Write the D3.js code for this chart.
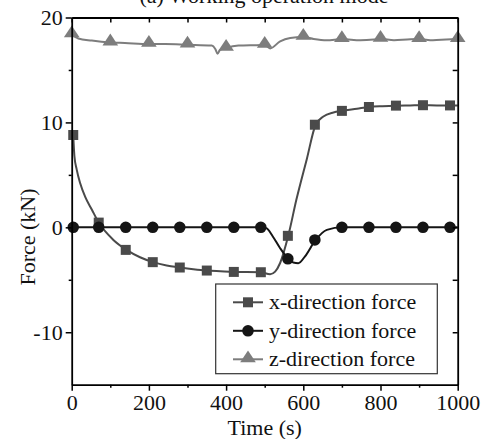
<!DOCTYPE html>
<html><head><meta charset="utf-8">
<script src="https://cdn.jsdelivr.net/npm/d3@7"></script>
<style>body{margin:0;background:#fff}svg{display:block}text{font-family:"Liberation Serif","Times New Roman",serif;fill:#111}</style>
</head><body><svg id="c" width="491" height="439"></svg>
<script>
// ---- data ----
const titleText = "(a) Working operation mode";
const xTitle = "Time (s)";
const yTitle = "Force (kN)";
const seriesNames = ["x-direction force", "y-direction force", "z-direction force"];
const xTickValues = [0, 200, 400, 600, 800, 1000];
const yTickValues = [-10, 0, 10, 20];

// x-direction force: traced line and markers
const xLineT = [4, 5, 7, 13, 22, 35, 52, 70, 108, 142, 177, 211, 246, 281, 315, 350, 385, 419, 453, 490, 514, 527, 540, 561, 582, 609, 632, 652, 678, 701, 739, 770, 805, 840, 877, 909, 946, 979, 1000];
const xLineV = [8.8, 8.0, 6.8, 5.5, 4.2, 2.9, 1.7, 0.45, -1.2, -2.15, -2.85, -3.32, -3.64, -3.83, -3.99, -4.12, -4.19, -4.25, -4.25, -4.28, -4.47, -4.22, -3.4, -0.81, 2.62, 6.5, 9.78, 10.57, 10.95, 11.1, 11.3, 11.47, 11.55, 11.6, 11.62, 11.64, 11.62, 11.62, 11.62];
const xMarkT = [4, 70, 140, 210, 280, 350, 420, 490, 560, 630, 700, 770, 840, 910, 980];
const xMarkV = [8.8, 0.45, -2.15, -3.32, -3.83, -4.12, -4.25, -4.28, -0.81, 9.78, 11.1, 11.47, 11.6, 11.64, 11.62];

// y-direction force
const yLineT = [4, 100, 200, 300, 400, 490, 504, 521, 540, 561, 574, 587, 604, 632, 661, 701, 800, 900, 1000];
const yLineV = [0, 0, 0, 0, 0, 0, -0.08, -0.87, -1.99, -3.0, -3.36, -3.42, -2.79, -1.2, -0.24, 0, 0, 0, 0];
const yMarkT = [4, 70, 140, 210, 280, 350, 420, 490, 560, 630, 700, 770, 840, 910, 980];
const yMarkV = [0, 0, 0, 0, 0, 0, 0, 0, -3.0, -1.2, 0, 0, 0, 0, 0];

// z-direction force
const zLineT = [0, 17, 52, 100, 138, 200, 242, 300, 363, 372, 378, 384, 400, 432, 492, 500, 514, 540, 566, 600, 627, 661, 700, 748, 783, 800, 835, 869, 900, 936, 970, 1000];
const zLineV = [18.4, 18.0, 17.8, 17.62, 17.57, 17.48, 17.48, 17.41, 17.32, 17.0, 16.55, 16.9, 17.1, 17.32, 17.38, 17.4, 17.05, 17.73, 18.05, 18.15, 17.95, 17.83, 17.95, 17.83, 17.9, 17.97, 17.83, 17.9, 17.95, 17.83, 17.9, 17.95];
const zMarkT = [0, 100, 200, 300, 400, 500, 600, 700, 800, 900, 1000];
const zMarkV = [18.4, 17.62, 17.48, 17.41, 17.1, 17.4, 18.15, 17.95, 17.97, 17.95, 17.95];

// ---- chart ----
const W = 491, H = 439;
const m = {l: 71.7, r: 33.3, t: 17.5, b: 54.3};
const svg = d3.select("#c");
const x = d3.scaleLinear().domain([0, 1000]).range([m.l, W - m.r]);
const y = d3.scaleLinear().domain([-15, 20]).range([H - m.b, m.t]);

const colX = "#4a4a4a", colY = "#151515", colZ = "#7d7d7d";

// title (cut off at the top edge, as in the source image)
svg.append("text").attr("x", 264).attr("y", 3).attr("text-anchor", "middle")
  .style("font-size", "22px").text(titleText);

const line = d3.line().x(d => x(d[0])).y(d => y(d[1])).curve(d3.curveMonotoneX);
const zip = (a, b) => a.map((t, i) => [t, b[i]]);

const g = svg.append("g");
g.append("path").datum(zip(zLineT, zLineV)).attr("d", line).attr("fill", "none").attr("stroke", colZ).attr("stroke-width", 2);
g.append("path").datum(zip(xLineT, xLineV)).attr("d", line).attr("fill", "none").attr("stroke", colX).attr("stroke-width", 2);
g.append("path").datum(zip(yLineT, yLineV)).attr("d", line).attr("fill", "none").attr("stroke", colY).attr("stroke-width", 2);

const sq = d3.symbol().type(d3.symbolSquare).size(100);
const ci = d3.symbol().type(d3.symbolCircle).size(105);
const tr = d3.symbol().type(d3.symbolTriangle).size(80);

g.selectAll(".mz").data(zip(zMarkT, zMarkV)).join("path").attr("d", tr)
  .attr("transform", d => `translate(${x(d[0])},${y(d[1]) - 1}) scale(1.15,1)`).attr("fill", colZ);
g.selectAll(".mx").data(zip(xMarkT, xMarkV)).join("path").attr("d", sq)
  .attr("transform", d => `translate(${x(d[0])},${y(d[1])})`).attr("fill", colX);
g.selectAll(".my").data(zip(yMarkT, yMarkV)).join("path").attr("d", ci)
  .attr("transform", d => `translate(${x(d[0])},${y(d[1])})`).attr("fill", colY);

// axes
function styleAxis(sel) {
  sel.selectAll(".domain").attr("stroke", "#000").attr("stroke-width", 1.8);
  sel.selectAll(".tick line").attr("stroke", "#000").attr("stroke-width", 1.5);
  sel.selectAll("text").style("font-size", "22px").attr("fill", "#111");
}
const xMinor = d3.range(100, 1000, 200);
const yMinor = [-5, 5, 15];

const ax = svg.append("g").attr("transform", `translate(0,${H - m.b})`)
  .call(d3.axisBottom(x).tickValues(xTickValues).tickSize(6).tickSizeOuter(0).tickPadding(4).tickFormat(d3.format("d")));
styleAxis(ax);
ax.selectAll("text").attr("dy", "0.71em");
svg.append("g").attr("transform", `translate(0,${H - m.b})`)
  .call(d3.axisBottom(x).tickValues(xMinor).tickSize(3).tickFormat("").tickSizeOuter(0)).call(styleAxis)
  .select(".domain").remove();

const ay = svg.append("g").attr("transform", `translate(${m.l},0)`)
  .call(d3.axisLeft(y).tickValues(yTickValues).tickSize(6).tickSizeOuter(0).tickPadding(3)
    .tickFormat(d => d < 0 ? "-" + Math.abs(d) : d));
styleAxis(ay);
svg.append("g").attr("transform", `translate(${m.l},0)`)
  .call(d3.axisLeft(y).tickValues(yMinor).tickSize(3).tickFormat("").tickSizeOuter(0)).call(styleAxis)
  .select(".domain").remove();

// top & right mirrored axes with inward ticks
const at = svg.append("g").attr("transform", `translate(0,${m.t})`)
  .call(d3.axisTop(x).tickValues(xTickValues.concat(xMinor)).tickSize(-5).tickFormat("").tickSizeOuter(0));
styleAxis(at);
const ar = svg.append("g").attr("transform", `translate(${W - m.r},0)`)
  .call(d3.axisRight(y).tickValues(yTickValues.concat(yMinor)).tickSize(-5).tickFormat("").tickSizeOuter(0));
styleAxis(ar);

// axis titles
svg.append("text").attr("x", (m.l + W - m.r) / 2).attr("y", 435).attr("text-anchor", "middle")
  .style("font-size", "22px").text(xTitle);
svg.append("text").attr("transform", `translate(35,${237}) rotate(-90)`).attr("text-anchor", "middle")
  .style("font-size", "22px").text(yTitle);

// legend
const lg = svg.append("g");
lg.append("rect").attr("x", 215.7).attr("y", 284).attr("width", 221.6).attr("height", 89.7)
  .attr("fill", "#fff").attr("stroke", "#333").attr("stroke-width", 1.2);
const legItems = [
  {name: seriesNames[0], col: colX, sym: sq, sx: 1},
  {name: seriesNames[1], col: colY, sym: ci, sx: 1},
  {name: seriesNames[2], col: colZ, sym: tr, sx: 1.15}
];
legItems.forEach((it, i) => {
  const cy = 302.3 + i * 28.5;
  lg.append("line").attr("x1", 233).attr("x2", 263).attr("y1", cy).attr("y2", cy)
    .attr("stroke", it.col).attr("stroke-width", 2);
  lg.append("path").attr("d", it.sym).attr("fill", it.col)
    .attr("transform", `translate(248,${cy - (i === 2 ? 1 : 0)}) scale(${it.sx},1)`);
  lg.append("text").attr("x", 269).attr("y", cy).attr("dy", "0.32em")
    .style("font-size", "22px").text(it.name);
});
</script></body></html>
